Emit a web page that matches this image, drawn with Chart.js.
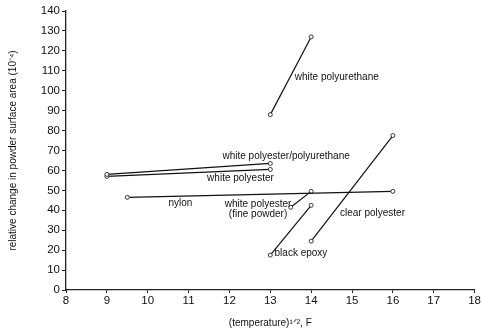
<!DOCTYPE html>
<html>
<head>
<meta charset="utf-8">
<script src="https://cdn.jsdelivr.net/npm/chart.js@4"></script>
<style>
  html, body { margin: 0; padding: 0; background: #fff; }
  #wrap { width: 482px; height: 329px; }
</style>
</head>
<body>
<div id="wrap"><canvas id="grafico"></canvas></div>
<script>
// pares de pontos (x = temperatura^1/2, y = variação relativa da área)
var polyurethaneBranco = [{x: 13, y: 88}, {x: 14, y: 127}];
var polyesterPolyurethane = [{x: 9, y: 58}, {x: 13, y: 63.5}];
var polyesterBranco = [{x: 9, y: 57}, {x: 13, y: 60.5}];
var nylon = [{x: 9.5, y: 46.5}, {x: 16, y: 49.5}];
var polyesterFino = [{x: 13.5, y: 41.5}, {x: 14, y: 49.5}];
var epoxyPreto = [{x: 13, y: 17.5}, {x: 14, y: 42.5}];
var polyesterClaro = [{x: 14, y: 24.5}, {x: 16, y: 77.5}];

// rótulos escritos dentro do gráfico: [texto, x, y, alinhamento]
var rotulos = [
    ['white polyurethane', 13.6, 107, 'left'],
    ['white polyester/polyurethane', 11.83, 67, 'left'],
    ['white polyester', 12.27, 56.3, 'center'],
    ['nylon', 10.8, 43.5, 'center'],
    ['white polyester', 12.7, 43, 'center'],
    ['(fine powder)', 12.7, 38, 'center'],
    ['clear polyester', 15.5, 38.5, 'center'],
    ['black epoxy', 13.75, 18.5, 'center']
];

var eixoX = {min: 8, max: 18, passo: 1};
var eixoY = {min: 0, max: 140, passo: 10};

function serie(dados) {
    return {
        data: dados,
        borderColor: '#111',
        borderWidth: 1.2,
        pointRadius: 2,
        pointBorderWidth: 0.9,
        pointBackgroundColor: '#fff',
        pointBorderColor: '#222',
        fill: false,
        tension: 0
    };
}

var pluginRotulos = {
    id: 'rotulos',
    afterDatasetsDraw: function (chart) {
        var ctx = chart.ctx;
        var sx = chart.scales.x, sy = chart.scales.y;
        ctx.save();
        ctx.fillStyle = '#111';
        ctx.font = '10px "Liberation Sans", Arial, sans-serif';
        ctx.textBaseline = 'middle';
        rotulos.forEach(function (r) {
            ctx.textAlign = r[3];
            ctx.fillText(r[0], sx.getPixelForValue(r[1]), sy.getPixelForValue(r[2]));
        });
        ctx.restore();
    }
};

var ctx = document.getElementById('grafico').getContext('2d');
var chart = new Chart(ctx, {
    type: 'line',
    data: {
        datasets: [
            serie(polyurethaneBranco),
            serie(polyesterPolyurethane),
            serie(polyesterBranco),
            serie(nylon),
            serie(polyesterFino),
            serie(epoxyPreto),
            serie(polyesterClaro)
        ]
    },
    options: {
        responsive: true,
        maintainAspectRatio: false,
        animation: false,
        layout: { padding: { top: 11, right: 6, left: 0, bottom: 0 } },
        plugins: {
            legend: { display: false },
            tooltip: { enabled: false }
        },
        scales: {
            x: {
                type: 'linear',
                min: eixoX.min,
                max: eixoX.max,
                afterFit: function (s) { s.height = 39; },
                ticks: {
                    stepSize: eixoX.passo,
                    color: '#111',
                    padding: 1,
                    maxRotation: 0,
                    font: { family: '"Liberation Sans", Arial, sans-serif', size: 11.5 }
                },
                grid: { drawOnChartArea: false, tickLength: 3, color: '#222' },
                border: { color: '#222', width: 1.3 },
                title: {
                    display: true,
                    text: '(temperature)¹ᐟ², F',
                    color: '#111',
                    padding: { top: 4, bottom: 0 },
                    font: { family: '"Liberation Sans", Arial, sans-serif', size: 10 }
                }
            },
            y: {
                min: eixoY.min,
                max: eixoY.max,
                afterFit: function (s) { s.width = 66; },
                ticks: {
                    stepSize: eixoY.passo,
                    color: '#111',
                    padding: 2,
                    font: { family: '"Liberation Sans", Arial, sans-serif', size: 11.5 }
                },
                grid: { drawOnChartArea: false, tickLength: 4, color: '#222' },
                border: { color: '#222', width: 1.3 },
                title: {
                    display: true,
                    text: 'relative change in powder surface area (10⁻⁴)',
                    color: '#111',
                    padding: { top: 7, bottom: 0 },
                    font: { family: '"Liberation Sans", Arial, sans-serif', size: 10 }
                }
            }
        }
    },
    plugins: [pluginRotulos]
});
</script>
</body>
</html>
